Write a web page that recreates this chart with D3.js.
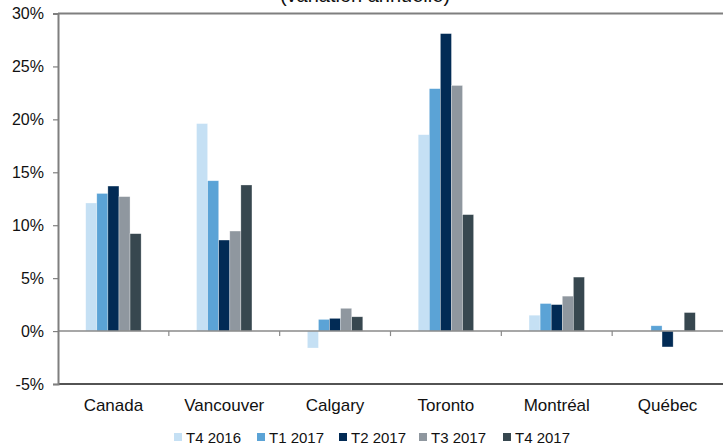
<!DOCTYPE html>
<html><head><meta charset="utf-8">
<script src="https://cdn.jsdelivr.net/npm/d3@7"></script>
<style>body{margin:0;background:#fff}svg{display:block;font-family:"Liberation Sans",Arial,sans-serif}</style>
</head><body><svg id="c" width="723" height="446"></svg>
<script>
const categories = ["Canada","Vancouver","Calgary","Toronto","Montréal","Québec"];
const seriesNames = ["T4 2016","T1 2017","T2 2017","T3 2017","T4 2017"];
const colors = ["#c5e0f4","#5ba3d6","#022b55","#8f979f","#37474f"];
const t4_2016 = [12.1, 19.6, -1.6, 18.55, 1.5, 0.0];
const t1_2017 = [13.0, 14.2, 1.1, 22.9, 2.6, 0.5];
const t2_2017 = [13.7, 8.6, 1.2, 28.1, 2.5, -1.5];
const t3_2017 = [12.7, 9.45, 2.15, 23.2, 3.3, 0.07];
const t4_2017 = [9.2, 13.8, 1.35, 11.0, 5.1, 1.75];
const yTicks = [-5,0,5,10,15,20,25,30];
const seriesValues = [t4_2016,t1_2017,t2_2017,t3_2017,t4_2017];

const svg = d3.select("#c");
const L = 58, R = 723, T = 13.5, B = 384;
const x0 = d3.scaleBand().domain(categories).range([L,R]).padding(0);
const bw = x0.bandwidth();
const x1 = d3.scaleBand().domain(seriesNames).range([bw*0.25, bw*0.75]).padding(0);
const y = d3.scaleLinear().domain([-5,30]).range([B,T]);

// title (partly cut)
svg.append("text").attr("x",365).attr("y",2).attr("text-anchor","middle")
  .attr("font-size",20).attr("fill","#111").text("(variation annuelle)");

// bars
categories.forEach((c,i)=>{
  const g = svg.append("g").attr("transform",`translate(${x0(c)},0)`);
  seriesNames.forEach((s,j)=>{
    const v = seriesValues[j][i];
    if (v === 0) return;
    g.append("rect").attr("x",x1(s)).attr("width",x1.bandwidth())
      .attr("y",y(Math.max(0,v))).attr("height",Math.abs(y(v)-y(0)))
      .attr("fill",colors[j]).attr("stroke","rgba(255,255,255,0.5)").attr("stroke-width",0.6);
  });
});

// frame lines
svg.append("line").attr("x1",L).attr("x2",R).attr("y1",T).attr("y2",T).attr("stroke","#7f7f7f").attr("stroke-width",2);
svg.append("line").attr("x1",L).attr("x2",R).attr("y1",B).attr("y2",B).attr("stroke","#1a1a1a").attr("stroke-width",1.5);
svg.append("line").attr("x1",L).attr("x2",R).attr("y1",y(0)).attr("y2",y(0)).attr("stroke","#8a8a8a").attr("stroke-width",1.5);

// y axis
const yAxis = d3.axisLeft(y).tickValues(yTicks).tickSize(5).tickPadding(9).tickFormat(d=>d+"%");
const ya = svg.append("g").attr("transform",`translate(${L},0)`).call(yAxis);
ya.select(".domain").attr("stroke","#7f7f7f").attr("stroke-width",2);
ya.selectAll(".tick line").attr("stroke","#7f7f7f").attr("stroke-width",1.2);
ya.selectAll(".tick text").attr("font-size",16).attr("fill","#111").attr("font-family","Liberation Sans, Arial, sans-serif");

// x ticks at boundaries on zero line
const bounds = categories.map(c=>x0(c)).slice(1);
svg.selectAll(".xt").data(bounds).enter().append("line")
  .attr("x1",d=>d).attr("x2",d=>d).attr("y1",y(0)).attr("y2",y(0)+5)
  .attr("stroke","#8a8a8a").attr("stroke-width",1.2);

// category labels
svg.selectAll(".cl").data(categories).enter().append("text")
  .attr("x",d=>x0(d)+bw/2).attr("y",411).attr("text-anchor","middle")
  .attr("font-size",17).attr("fill","#111").text(d=>d);

// legend
const legX = [174,257,339,419,503];
seriesNames.forEach((s,j)=>{
  svg.append("rect").attr("x",legX[j]).attr("y",433).attr("width",8).attr("height",8).attr("fill",colors[j]);
  svg.append("text").attr("x",legX[j]+12).attr("y",443).attr("font-size",15).attr("fill","#111").text(s);
});
</script></body></html>
